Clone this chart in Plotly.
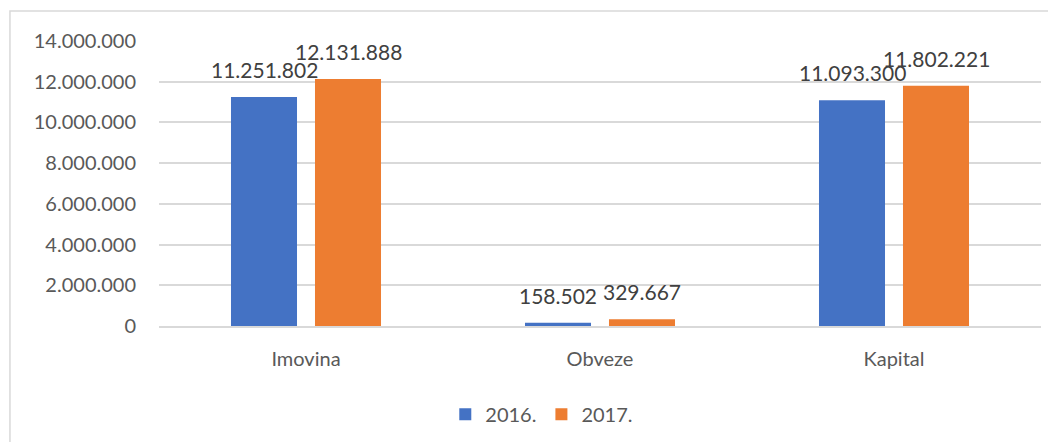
import plotly.graph_objects as go

categories = ["Imovina", "Obveze", "Kapital"]
series_names = ["2016.", "2017."]
values_2016 = [11251802, 158502, 11093300]
values_2017 = [12131888, 329667, 11802221]
colors = ["#4472C4", "#ED7D31"]
y_ticks = [0, 2000000, 4000000, 6000000, 8000000, 10000000, 12000000, 14000000]

FONT = "Lato"

def fmt(v):
    return f"{v:,}".replace(",", ".")

fig = go.Figure()
for name, vals, col in zip(series_names, [values_2016, values_2017], colors):
    fig.add_trace(go.Bar(
        x=categories, y=vals, name=name,
        marker=dict(color=col, line=dict(width=0)),
        hoverinfo="skip",
    ))

annotations = []
for shift, vals in zip([-42, 42], [values_2016, values_2017]):
    for c, v in zip(categories, vals):
        annotations.append(dict(
            x=c, y=v, xref="x", yref="y", text=fmt(v), showarrow=False,
            xshift=shift, yanchor="bottom", yshift=13,
            font=dict(family=FONT, size=21, color="#404040"),
        ))

fig.update_layout(
    width=1056, height=442,
    margin=dict(l=151, r=23, t=33, b=123.5),
    paper_bgcolor="white", plot_bgcolor="white",
    barmode="group", bargap=0.4286, bargroupgap=0.214,
    separators=",.",
    font=dict(family=FONT, size=20, color="#595959"),
    showlegend=True,
    legend=dict(orientation="h", x=0.434, xanchor="center", y=-0.31, yanchor="middle",
                font=dict(family=FONT, size=20, color="#595959"), itemwidth=30,
                traceorder="normal"),
    annotations=annotations,
    shapes=[dict(type="rect", xref="paper", yref="paper",
                 x0=-0.169, x1=1.2, y0=-0.6, y1=1.105,
                 line=dict(color="#D9D9D9", width=1.5), fillcolor="rgba(0,0,0,0)", layer="below")],
)
fig.update_xaxes(showgrid=False, showline=True, linecolor="#D9D9D9", linewidth=1.5,
                 ticks="", ticklabelstandoff=14, tickfont=dict(size=20, color="#595959"))
fig.update_yaxes(range=[0, 14000000], tickvals=y_ticks, tickformat=",d",
                 showgrid=True, gridcolor="#D9D9D9", gridwidth=1.5,
                 zeroline=False, showline=False, ticks="", ticklabelstandoff=22,
                 tickfont=dict(size=20, color="#595959"))

fig.write_html("out.html")
